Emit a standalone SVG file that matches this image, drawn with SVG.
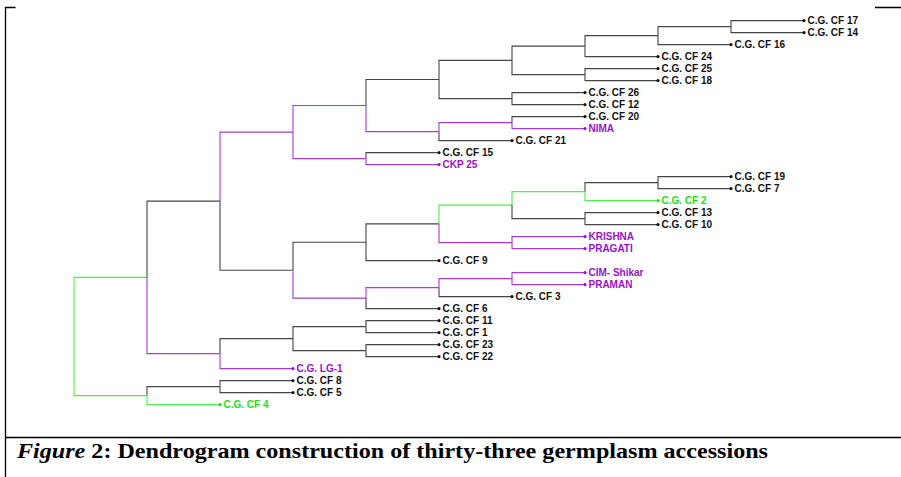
<svg xmlns="http://www.w3.org/2000/svg" width="901" height="477" viewBox="0 0 901 477">
<style>
.k{fill:none;stroke:#454545;stroke-width:1.1}
.p{fill:none;stroke:#a83ad8;stroke-width:1.1}
.g{fill:none;stroke:#4cf04c;stroke-width:1.1}
.frame{fill:none;stroke:#000;stroke-width:1.3}
text.l{font-family:"Liberation Sans",Arial,sans-serif;font-size:10px;font-weight:bold}
.lk{fill:#111}
.lp{fill:#9a12c8}
.lg{fill:#1ee01e}
.dk{fill:#111}
.dp{fill:#9a12c8}
.dg{fill:#1ee01e}
.cap{font-family:"Liberation Serif","Times New Roman",serif;font-size:21px;font-weight:bold;fill:#000}
</style>
<rect width="901" height="477" fill="#fff"/>
<g id="frame">
<path class="frame" d="M5.5 477V7.5H15.5M875 7.5H901M5.5 437.5H901"/>
</g>
<g id="connectors">
<path class="g" d="M74 336.5V277.4H147M74 336.5V395.6H147"/>
<path class="k" d="M147 277.4V201.1H220"/>
<path class="p" d="M147 277.4V353.6H220"/>
<path class="p" d="M220 201.1V132.1H293"/>
<path class="k" d="M220 201.1V270.2H293"/>
<path class="p" d="M293 132.1V105.5H366M293 132.1V158.6H366"/>
<path class="k" d="M366 105.5V79.5H439"/>
<path class="p" d="M366 105.5V131.6H439"/>
<path class="k" d="M439 79.5V60.35H512M439 79.5V98.6H512"/>
<path class="k" d="M512 60.35V46.1H585M512 60.35V74.6H585"/>
<path class="k" d="M585 46.1V35.6H658M585 46.1V56.6H658"/>
<path class="k" d="M658 35.6V26.6H731M658 35.6V44.6H731"/>
<path class="k" d="M731 26.6V20.6H804M731 26.6V32.6H804"/>
<path class="k" d="M585 74.6V68.6H658M585 74.6V80.6H658"/>
<path class="k" d="M512 98.6V92.6H585M512 98.6V104.6H585"/>
<path class="p" d="M439 131.6V122.6H512"/>
<path class="k" d="M439 131.6V140.6H512"/>
<path class="k" d="M512 122.6V116.6H585"/>
<path class="p" d="M512 122.6V128.6H585"/>
<path class="k" d="M366 158.6V152.6H439"/>
<path class="p" d="M366 158.6V164.6H439"/>
<path class="k" d="M293 270.2V242.2H366"/>
<path class="p" d="M293 270.2V298.1H366"/>
<path class="k" d="M366 242.2V223.85H439M366 242.2V260.6H439"/>
<path class="g" d="M439 223.85V205.1H512"/>
<path class="p" d="M439 223.85V242.6H512"/>
<path class="g" d="M512 205.1V191.6H585"/>
<path class="k" d="M512 205.1V218.6H585"/>
<path class="k" d="M585 191.6V182.6H658"/>
<path class="g" d="M585 191.6V200.6H658"/>
<path class="k" d="M658 182.6V176.6H731M658 182.6V188.6H731"/>
<path class="k" d="M585 218.6V212.6H658M585 218.6V224.6H658"/>
<path class="p" d="M512 242.6V236.6H585M512 242.6V248.6H585"/>
<path class="p" d="M366 298.1V287.6H439"/>
<path class="k" d="M366 298.1V308.6H439"/>
<path class="p" d="M439 287.6V278.6H512"/>
<path class="k" d="M439 287.6V296.6H512"/>
<path class="p" d="M512 278.6V272.6H585M512 278.6V284.6H585"/>
<path class="k" d="M220 353.6V338.6H293"/>
<path class="p" d="M220 353.6V368.6H293"/>
<path class="k" d="M293 338.6V326.6H366M293 338.6V350.6H366"/>
<path class="k" d="M366 326.6V320.6H439M366 326.6V332.6H439"/>
<path class="k" d="M366 350.6V344.6H439M366 350.6V356.6H439"/>
<path class="k" d="M147 395.6V386.6H220"/>
<path class="g" d="M147 395.6V404.6H220"/>
<path class="k" d="M220 386.6V380.6H293M220 386.6V392.6H293"/>
</g>
<g id="n-cf17"><circle class="dk" cx="804" cy="20.6" r="1.6"/><text class="l lk" x="807.5" y="24.2">C.G. CF 17</text></g>
<g id="n-cf14"><circle class="dk" cx="804" cy="32.6" r="1.6"/><text class="l lk" x="807.5" y="36.2">C.G. CF 14</text></g>
<g id="n-cf16"><circle class="dk" cx="731" cy="44.6" r="1.6"/><text class="l lk" x="734.5" y="48.2">C.G. CF 16</text></g>
<g id="n-cf24"><circle class="dk" cx="658" cy="56.6" r="1.6"/><text class="l lk" x="661.5" y="60.2">C.G. CF 24</text></g>
<g id="n-cf25"><circle class="dk" cx="658" cy="68.6" r="1.6"/><text class="l lk" x="661.5" y="72.2">C.G. CF 25</text></g>
<g id="n-cf18"><circle class="dk" cx="658" cy="80.6" r="1.6"/><text class="l lk" x="661.5" y="84.2">C.G. CF 18</text></g>
<g id="n-cf26"><circle class="dk" cx="585" cy="92.6" r="1.6"/><text class="l lk" x="588.5" y="96.2">C.G. CF 26</text></g>
<g id="n-cf12"><circle class="dk" cx="585" cy="104.6" r="1.6"/><text class="l lk" x="588.5" y="108.2">C.G. CF 12</text></g>
<g id="n-cf20"><circle class="dk" cx="585" cy="116.6" r="1.6"/><text class="l lk" x="588.5" y="120.2">C.G. CF 20</text></g>
<g id="n-nima"><circle class="dp" cx="585" cy="128.6" r="1.6"/><text class="l lp" x="588.5" y="132.2">NIMA</text></g>
<g id="n-cf21"><circle class="dk" cx="512" cy="140.6" r="1.6"/><text class="l lk" x="515.5" y="144.2">C.G. CF 21</text></g>
<g id="n-cf15"><circle class="dk" cx="439" cy="152.6" r="1.6"/><text class="l lk" x="442.5" y="156.2">C.G. CF 15</text></g>
<g id="n-ckp25"><circle class="dp" cx="439" cy="164.6" r="1.6"/><text class="l lp" x="442.5" y="168.2">CKP 25</text></g>
<g id="n-cf19"><circle class="dk" cx="731" cy="176.6" r="1.6"/><text class="l lk" x="734.5" y="180.2">C.G. CF 19</text></g>
<g id="n-cf7"><circle class="dk" cx="731" cy="188.6" r="1.6"/><text class="l lk" x="734.5" y="192.2">C.G. CF 7</text></g>
<g id="n-cf2"><circle class="dg" cx="658" cy="200.6" r="1.6"/><text class="l lg" x="661.5" y="204.2">C.G. CF 2</text></g>
<g id="n-cf13"><circle class="dk" cx="658" cy="212.6" r="1.6"/><text class="l lk" x="661.5" y="216.2">C.G. CF 13</text></g>
<g id="n-cf10"><circle class="dk" cx="658" cy="224.6" r="1.6"/><text class="l lk" x="661.5" y="228.2">C.G. CF 10</text></g>
<g id="n-krishna"><circle class="dp" cx="585" cy="236.6" r="1.6"/><text class="l lp" x="588.5" y="240.2">KRISHNA</text></g>
<g id="n-pragati"><circle class="dp" cx="585" cy="248.6" r="1.6"/><text class="l lp" x="588.5" y="252.2">PRAGATI</text></g>
<g id="n-cf9"><circle class="dk" cx="439" cy="260.6" r="1.6"/><text class="l lk" x="442.5" y="264.2">C.G. CF 9</text></g>
<g id="n-cim"><circle class="dp" cx="585" cy="272.6" r="1.6"/><text class="l lp" x="588.5" y="276.2">CIM- Shikar</text></g>
<g id="n-praman"><circle class="dp" cx="585" cy="284.6" r="1.6"/><text class="l lp" x="588.5" y="288.2">PRAMAN</text></g>
<g id="n-cf3"><circle class="dk" cx="512" cy="296.6" r="1.6"/><text class="l lk" x="515.5" y="300.2">C.G. CF 3</text></g>
<g id="n-cf6"><circle class="dk" cx="439" cy="308.6" r="1.6"/><text class="l lk" x="442.5" y="312.2">C.G. CF 6</text></g>
<g id="n-cf11"><circle class="dk" cx="439" cy="320.6" r="1.6"/><text class="l lk" x="442.5" y="324.2">C.G. CF 11</text></g>
<g id="n-cf1"><circle class="dk" cx="439" cy="332.6" r="1.6"/><text class="l lk" x="442.5" y="336.2">C.G. CF 1</text></g>
<g id="n-cf23"><circle class="dk" cx="439" cy="344.6" r="1.6"/><text class="l lk" x="442.5" y="348.2">C.G. CF 23</text></g>
<g id="n-cf22"><circle class="dk" cx="439" cy="356.6" r="1.6"/><text class="l lk" x="442.5" y="360.2">C.G. CF 22</text></g>
<g id="n-lg1"><circle class="dp" cx="293" cy="368.6" r="1.6"/><text class="l lp" x="296.5" y="372.2">C.G. LG-1</text></g>
<g id="n-cf8"><circle class="dk" cx="293" cy="380.6" r="1.6"/><text class="l lk" x="296.5" y="384.2">C.G. CF 8</text></g>
<g id="n-cf5"><circle class="dk" cx="293" cy="392.6" r="1.6"/><text class="l lk" x="296.5" y="396.2">C.G. CF 5</text></g>
<g id="n-cf4"><circle class="dg" cx="220" cy="404.6" r="1.6"/><text class="l lg" x="223.5" y="408.2">C.G. CF 4</text></g>
<g id="caption">
<text class="cap" x="17" y="458" textLength="751" lengthAdjust="spacingAndGlyphs"><tspan font-style="italic">Figure</tspan> 2: Dendrogram construction of thirty-three germplasm accessions</text>
</g>
</svg>
